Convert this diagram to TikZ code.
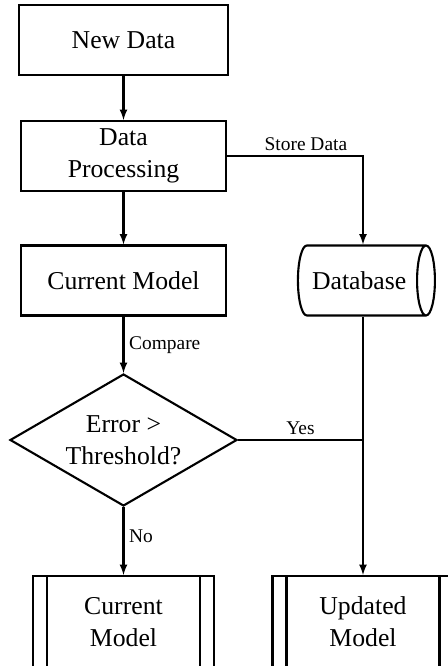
\documentclass[tikz,border=0pt]{standalone}
\usepackage{fontspec}
\setmainfont{Liberation Serif}
\usetikzlibrary{shapes.geometric}

\begin{document}
\begin{tikzpicture}[line width=1.5pt,
	box/.style={draw, minimum width=5.125cm, minimum height=1.75cm, align=center, font=\fontsize{18.3}{22.8}\selectfont},
	decision/.style={draw, diamond, aspect=1.72, inner sep=0pt, minimum width=5.675cm, minimum height=3.3cm, align=center, font=\fontsize{18.3}{22.8}\selectfont},
	store/.style={draw, cylinder, aspect=0.65, inner xsep=2pt, minimum width=1.75cm, minimum height=3.425cm, font=\fontsize{18.3}{22.8}\selectfont},
	predef/.style={draw, minimum width=4.525cm, minimum height=2.3cm, align=center, font=\fontsize{18.3}{22.8}\selectfont,
		path picture={\draw ([xshift=0.35cm]path picture bounding box.north west) -- ([xshift=0.35cm]path picture bounding box.south west)
			([xshift=-0.35cm]path picture bounding box.north east) -- ([xshift=-0.35cm]path picture bounding box.south east);}},
	lbl/.style={font=\fontsize{13.8}{16}\selectfont}]
	
	\clip (0,0) rectangle (11.2,16.65);
	
	\node[box, minimum width=5.225cm] (new) at (3.0875,15.65) {New Data};
	\node[box] (proc) at (3.0875,12.75) {Data\\Processing};
	\node[box] (curr) at (3.0875,9.6375) {Current Model};
	\node[store] (db) at (8.98,9.6375) {Database};
	\node[decision] (dec) at (3.0875,5.65) {Error >\\Threshold?};
	\node[predef] (oldm) at (3.0875,1.1) {Current\\Model};
	\node[predef] (newm) at (9.075,1.1) {Updated\\Model};
	
	\draw[-latex] (new) -- (proc);
	\draw[-latex] (proc) -- (curr);
	\draw[-latex] (proc.east) -| (newm.north |- db.north) node[lbl, pos=0.29, above] {Store Data};
	\draw[-latex] (curr) -- (dec) node[lbl, midway, right] {Compare};
	\draw[-latex] (dec) -- (oldm) node[lbl, pos=0.43, right] {No};
	\draw[-latex] (newm.north |- db.south) -- (newm);
	\draw (dec.east) -- (dec.east -| newm.north) node[lbl, midway, above] {Yes};
\end{tikzpicture}
\end{document}
